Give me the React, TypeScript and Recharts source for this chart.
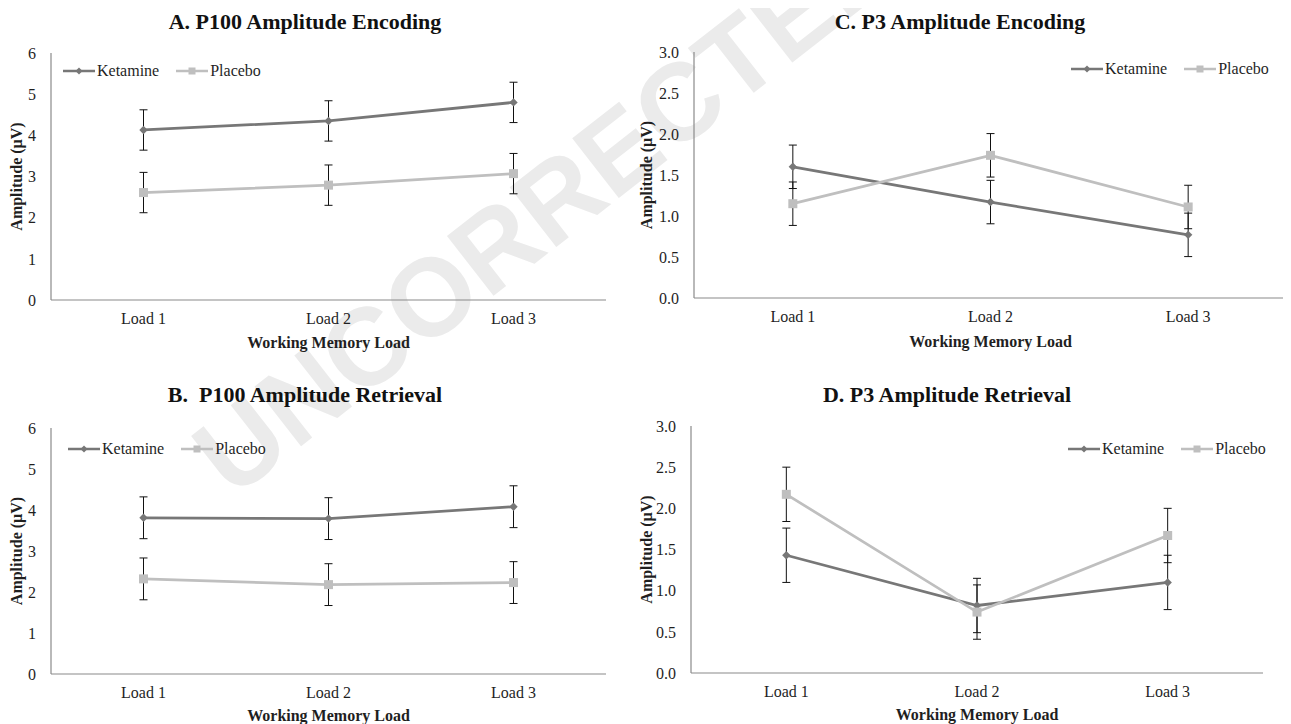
import React from 'react';
import { LineChart, Line, XAxis, YAxis, ErrorBar, Legend, Label } from 'recharts';

const FONT = '"Liberation Serif", "Times New Roman", serif';
const SANS = '"Liberation Sans", Arial, sans-serif';
const TXT = '#1f1f1f';
const AXIS = '#8a8a8a';
const KET_COLOR = '#777777';
const PLA_COLOR = '#bfbfbf';

// ---- data ----
const loads = ['Load 1', 'Load 2', 'Load 3'];
const seriesNames = ['Ketamine', 'Placebo'];
const p100Ticks = [0, 1, 2, 3, 4, 5, 6];
const p3Ticks = [0, 0.5, 1, 1.5, 2, 2.5, 3];

// A. P100 Amplitude Encoding
const ketA = [4.13, 4.35, 4.8];
const ketAErr = [0.49, 0.49, 0.49];
const plaA = [2.61, 2.79, 3.07];
const plaAErr = [0.49, 0.49, 0.49];

// B. P100 Amplitude Retrieval
const ketB = [3.81, 3.79, 4.08];
const ketBErr = [0.51, 0.51, 0.51];
const plaB = [2.32, 2.18, 2.23];
const plaBErr = [0.51, 0.51, 0.51];

// C. P3 Amplitude Encoding
const ketC = [1.6, 1.17, 0.77];
const ketCErr = [0.265, 0.265, 0.265];
const plaC = [1.15, 1.74, 1.11];
const plaCErr = [0.265, 0.265, 0.265];

// D. P3 Amplitude Retrieval
const ketD = [1.43, 0.82, 1.1];
const ketDErr = [0.33, 0.33, 0.33];
const plaD = [2.17, 0.74, 1.67];
const plaDErr = [0.33, 0.33, 0.33];

function build(ket: number[], ketErr: number[], pla: number[], plaErr: number[]) {
  return loads.map((load, i) => ({ load, ket: ket[i], ketErr: ketErr[i], pla: pla[i], plaErr: plaErr[i] }));
}

const Diamond = (props: any) => {
  const { cx, cy, index } = props;
  if (cx == null || cy == null) return <g key={`kd${index}`} />;
  const r = 4.2;
  return (
    <polygon
      key={`kd${index}`}
      points={`${cx},${cy - r} ${cx + r},${cy} ${cx},${cy + r} ${cx - r},${cy}`}
      fill={KET_COLOR}
      stroke="none"
    />
  );
};

const Square = (props: any) => {
  const { cx, cy, index } = props;
  if (cx == null || cy == null) return <g key={`ps${index}`} />;
  const s = 9;
  return <rect key={`ps${index}`} x={cx - s / 2} y={cy - s / 2} width={s} height={s} fill={PLA_COLOR} stroke="none" />;
};

const LegendContent = () => (
  <div
    style={{
      display: 'flex',
      alignItems: 'center',
      fontFamily: FONT,
      fontSize: 16,
      color: TXT,
      lineHeight: '18px',
      whiteSpace: 'nowrap',
    }}
  >
    {seriesNames.map((n, i) => (
      <div key={n} style={{ display: 'flex', alignItems: 'center', marginLeft: i ? 17 : 0 }}>
        <svg width={32} height={18} style={{ display: 'block' }}>
          <line x1={0} y1={9} x2={32} y2={9} stroke={i ? PLA_COLOR : KET_COLOR} strokeWidth={2.5} />
          {i ? (
            <rect x={12.5} y={5.5} width={7} height={7} fill={PLA_COLOR} />
          ) : (
            <polygon points="16,5.5 19.5,9 16,12.5 12.5,9" fill={KET_COLOR} />
          )}
        </svg>
        <span style={{ marginLeft: 2 }}>{n}</span>
      </div>
    ))}
  </div>
);

type PanelCfg = {
  title: string;
  left: number;
  top: number;
  width: number;
  height: number;
  plotLeft: number;
  plotRight: number;
  plotTop: number;
  plotBottom: number;
  data: any[];
  ticks: number[];
  decimals: number;
  yLabelX: number;
  titleX: number;
  titleY: number;
  legendX: number;
  legendY: number;
  xTitleGap: number;
};

const panels: PanelCfg[] = [
  {
    title: 'A. P100 Amplitude Encoding',
    left: 0, top: 0, width: 645, height: 362,
    plotLeft: 51, plotRight: 606, plotTop: 53, plotBottom: 300,
    data: build(ketA, ketAErr, plaA, plaAErr),
    ticks: p100Ticks, decimals: 0,
    yLabelX: 16, titleX: 305, titleY: 22, legendX: 63, legendY: 71, xTitleGap: 42,
  },
  {
    title: 'B.  P100 Amplitude Retrieval',
    left: 0, top: 362, width: 645, height: 362,
    plotLeft: 51, plotRight: 606, plotTop: 428, plotBottom: 674,
    data: build(ketB, ketBErr, plaB, plaBErr),
    ticks: p100Ticks, decimals: 0,
    yLabelX: 16, titleX: 305, titleY: 395, legendX: 68, legendY: 449, xTitleGap: 41,
  },
  {
    title: 'C. P3 Amplitude Encoding',
    left: 610, top: 0, width: 681, height: 362,
    plotLeft: 694, plotRight: 1287, plotTop: 52, plotBottom: 298,
    data: build(ketC, ketCErr, plaC, plaCErr),
    ticks: p3Ticks, decimals: 1,
    yLabelX: 646, titleX: 960, titleY: 22, legendX: 1071, legendY: 69, xTitleGap: 43,
  },
  {
    title: 'D. P3 Amplitude Retrieval',
    left: 610, top: 362, width: 681, height: 362,
    plotLeft: 691, plotRight: 1263, plotTop: 426, plotBottom: 673,
    data: build(ketD, ketDErr, plaD, plaDErr),
    ticks: p3Ticks, decimals: 1,
    yLabelX: 646, titleX: 947, titleY: 395, legendX: 1068, legendY: 449, xTitleGap: 41,
  },
];

function Panel({ cfg }: { cfg: PanelCfg }) {
  const { left, top, width, height } = cfg;
  const pl = cfg.plotLeft - left;
  const pr = cfg.plotRight - left;
  const pt = cfg.plotTop - top;
  const pb = cfg.plotBottom - top;
  const band = (pr - pl) / loads.length;
  const tickStyle = { fontSize: 16, fill: TXT, fontFamily: FONT };
  const yCx = cfg.yLabelX - left;
  const yCy = (pt + pb) / 2;
  return (
    <div style={{ position: 'absolute', left, top, width, height }}>
      <LineChart width={width} height={height} data={cfg.data} margin={{ top: pt, right: width - pr, bottom: 0, left: 0 }}>
        <XAxis
          dataKey="load"
          height={height - pb}
          padding={{ left: band / 2, right: band / 2 }}
          axisLine={{ stroke: AXIS, strokeWidth: 1.2 }}
          tickLine={false}
          tickSize={0}
          tickMargin={13}
          interval={0}
          tick={tickStyle}
        >
          <Label
            content={() => (
              <text
                x={(pl + pr) / 2}
                y={pb + cfg.xTitleGap}
                textAnchor="middle"
                dominantBaseline="central"
                fontFamily={FONT}
                fontSize={16}
                fontWeight="bold"
                fill={TXT}
              >
                Working Memory Load
              </text>
            )}
          />
        </XAxis>
        <YAxis
          width={pl}
          domain={[cfg.ticks[0], cfg.ticks[cfg.ticks.length - 1]]}
          ticks={cfg.ticks}
          interval={0}
          axisLine={{ stroke: AXIS, strokeWidth: 1.2 }}
          tickLine={false}
          tickSize={0}
          tickMargin={15}
          tickFormatter={(v: number) => v.toFixed(cfg.decimals)}
          tick={tickStyle}
        >
          <Label
            content={() => (
              <text
                x={yCx}
                y={yCy}
                transform={`rotate(-90 ${yCx} ${yCy})`}
                textAnchor="middle"
                dominantBaseline="central"
                fontFamily={FONT}
                fontSize={16}
                fontWeight="bold"
                fill={TXT}
              >
                Amplitude (µV)
              </text>
            )}
          />
        </YAxis>
        <Legend
          content={LegendContent}
          layout="vertical"
          align="center"
          verticalAlign="middle"
          wrapperStyle={{ left: cfg.legendX - left, top: cfg.legendY - top - 9, width: 'auto', height: 18 }}
        />
        <Line
          dataKey="ket"
          name="Ketamine"
          stroke={KET_COLOR}
          strokeWidth={2.75}
          dot={Diamond}
          activeDot={false}
          isAnimationActive={false}
        >
          <ErrorBar dataKey="ketErr" width={4} stroke="#111" strokeWidth={1} direction="y" />
        </Line>
        <Line
          dataKey="pla"
          name="Placebo"
          stroke={PLA_COLOR}
          strokeWidth={2.75}
          dot={Square}
          activeDot={false}
          isAnimationActive={false}
        >
          <ErrorBar dataKey="plaErr" width={4} stroke="#111" strokeWidth={1} direction="y" />
        </Line>
      </LineChart>
      <div
        style={{
          position: 'absolute',
          left: cfg.titleX - left - 250,
          width: 500,
          top: cfg.titleY - top - 13,
          height: 26,
          lineHeight: '26px',
          textAlign: 'center',
          fontFamily: FONT,
          fontWeight: 'bold',
          fontSize: 22,
          color: '#111',
          whiteSpace: 'pre',
        }}
      >
        {cfg.title}
      </div>
    </div>
  );
}

export default function App() {
  return (
    <div style={{ position: 'relative', width: 1291, height: 724, marginLeft: -8, marginTop: -8, background: '#fff', overflow: 'hidden' }}>
      <svg width={1291} height={724} style={{ position: 'absolute', left: 0, top: 0 }}>
        <text
          x={546}
          y={206}
          transform="rotate(-38 546 206)"
          textAnchor="middle"
          dominantBaseline="central"
          fontFamily={SANS}
          fontWeight="bold"
          fontSize={110}
          fill="#ebebeb"
        >
          UNCORRECTED
        </text>
      </svg>
      {panels.map((p) => (
        <Panel key={p.title} cfg={p} />
      ))}
    </div>
  );
}
